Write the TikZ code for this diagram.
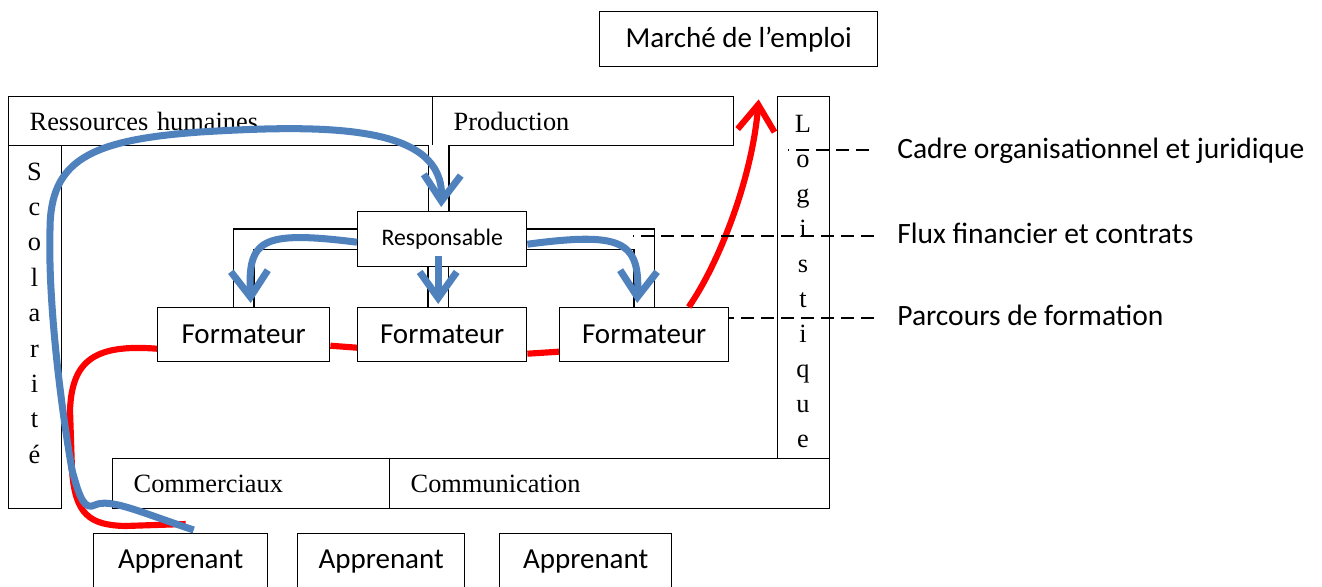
\documentclass[tikz,border=0pt]{standalone}
\usepackage{fontspec}
\setmainfont{Liberation Serif}
\newfontfamily\calib{Carlito}
\usetikzlibrary{arrows.meta,calc}

\definecolor{flowblue}{RGB}{79,129,189}
\definecolor{pathred}{RGB}{255,0,0}

\tikzset{
  cbox/.style={draw, line width=0.8pt, inner sep=0pt, anchor=north west,
    font=\calib\fontsize{16.5}{20}\selectfont},
  tbox/.style={draw, line width=0.8pt, inner ysep=0pt, inner xsep=0.42cm,
    anchor=north west, align=left, font=\fontsize{15}{18}\selectfont},
  vbox/.style={draw, line width=0.8pt, inner sep=0pt, anchor=north west},
  vletter/.style={anchor=base, inner sep=0pt, font=\fontsize{15}{18}\selectfont},
  pipe/.style={draw, line width=0.8pt, double=white, double distance=10.8pt},
  redflow/.style={draw=pathred, line width=3.5pt},
  blueflow/.style={draw=flowblue, line width=4pt},
  barb/.style={-{Straight Barb[length=0.52cm,width=0.74cm]}},
  dashline/.style={draw, line width=0.6pt, dash pattern=on 7.4pt off 4pt},
  lbl/.style={anchor=base west, inner sep=0pt, font=\calib\fontsize{16.8}{20}\selectfont},
}

\begin{document}
\begin{tikzpicture}[x=0.02cm, y=-0.02cm]
\useasboundingbox (0,0) rectangle (1322,586);

\node[cbox, minimum width=5.56cm, minimum height=1.10cm] (marche) at (599,11) {Marché de l’emploi};

\node[tbox, text width=7.64cm, minimum height=0.98cm] (rh) at (8,96) {Ressources humaines};
\node[tbox, text width=5.18cm, minimum height=0.98cm] (prod) at (432,96) {Production};
\node[tbox, text width=4.70cm, minimum height=1.00cm] (comm) at (112,458) {Commerciaux};
\node[tbox, text width=7.96cm, minimum height=1.00cm] (comu) at (389,458) {Communication};

\node[vbox, minimum width=1.06cm, minimum height=7.26cm] (scol) at (8,145) {};
\foreach \ch [count=\i from 0] in {S,c,o,l,a,r,i,t,é}
  \node[vletter] (scol-\i) at (34.5, {180+35.4*\i}) {\ch};
\node[vbox, minimum width=1.04cm, minimum height=7.24cm] (logi) at (777,96) {};
\foreach \ch [count=\i from 0] in {L,o,g,i,s,t,i,q,u,e}
  \node[vletter] (logi-\i) at (803, {132+35*\i}) {\ch};

\node[cbox, minimum width=3.38cm, minimum height=1.10cm,
      font=\calib\fontsize{13.5}{16}\selectfont] (resp) at (357,211) {Responsable};
\node[cbox, minimum width=3.44cm, minimum height=1.08cm] (f1) at (157,307) {Formateur};
\node[cbox, minimum width=3.38cm, minimum height=1.08cm] (f2) at (357,307) {Formateur};
\node[cbox, minimum width=3.38cm, minimum height=1.08cm] (f3) at (559,307) {Formateur};

\node[cbox, minimum width=3.48cm, minimum height=1.10cm] (a1) at (93,533) {Apprenant};
\node[cbox, minimum width=3.34cm, minimum height=1.10cm] (a2) at (297,533) {Apprenant};
\node[cbox, minimum width=3.44cm, minimum height=1.10cm] (a3) at (499,533) {Apprenant};

\node[lbl] (cadre) at (897,158) {Cadre organisationnel et juridique};
\node[lbl] (flux) at (897,243) {Flux financier et contrats};
\node[lbl] (parcours) at (897,325) {Parcours de formation};

%%%%%%%%%%%%%%%%%%%%%%%%%%%%%%%%%%%%%%%%

\draw[pipe] ($(resp.north)+(-3.5,0)$) -- ++(0,-66);
\draw[pipe] ($(resp.south)+(-4,0)$) -- ($(f2.north)+(-4,0)$);
\draw[pipe] (resp.west) -| (f1.north);
\draw[pipe] (resp.east) -| (f3.north);

%%%%%%%%%%%%%%%%%%%%%%%%%%%%%%%%%%%%%%%%

\draw[redflow] ($(f1.west)+(0,14)$) .. controls (95,344) and (72,360) .. (70,410)
  -- (72,470) .. controls (75,515) and (90,525) .. (125,526) -- ($(a1.north)+(5,-9)$);
\draw[redflow] ($(f1.east)+(0,11)$) -- ($(f2.west)+(0,13)$);
\draw[redflow] ($(f2.east)+(0,19)$) -- ($(f3.west)+(0,17)$);
\draw[redflow, barb] ($(f3.north)+(44.5,0)$) .. controls (718,265) and (752,180) .. ($(marche.south)+(20,32)$);

\draw[blueflow, barb] ($(a1.north)+(13,-3)$)
  .. controls (140,512) and (110,498) .. (95,505)
  .. controls (85,510) and (80,500) .. (72,470)
  .. controls (60,400) and (48,300) .. (50,230)
  .. controls (50,160) and (90,140) .. (200,132)
  .. controls (330,124) and (444,125) .. ($(resp.north)+(-1,-4)$);
\draw[blueflow, barb] ($(resp.west)+(0,3)$) .. controls (260,230) and (248,240) .. ($(f1.north)+(7,-4)$);
\draw[blueflow, barb] ($(resp.south)+(-4,-11)$) -- ($(f2.north)+(-4,-3)$);
\draw[blueflow, barb] ($(resp.east)+(0,5)$) .. controls (620,232) and (640,240) .. ($(f3.north)+(-7,-4)$);

\draw[dashline] (cadre.base west) ++(-28,-8) -- ++(-81,0);
\draw[dashline] (flux.base west) ++(-23,-7) -- ++(-241,0);
\draw[dashline] (parcours.base west) ++(-23,-7) -- ++(-146,0);

\end{tikzpicture}
\end{document}
